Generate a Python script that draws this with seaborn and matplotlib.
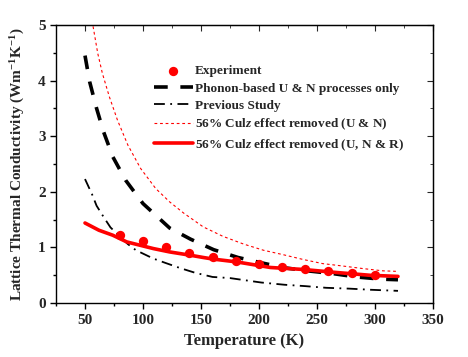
import numpy as np
import pandas as pd
import matplotlib
matplotlib.use("Agg")
import matplotlib.pyplot as plt
import seaborn as sns

# experiment points
expT = [80, 100, 120, 140, 160, 180, 200, 220, 240, 260, 280, 300]
expK = [1.22, 1.12, 1.0, 0.9, 0.82, 0.76, 0.7, 0.65, 0.62, 0.58, 0.54, 0.5]

# phonon-based U & N processes only
unT = [50, 54, 60, 66, 74, 85, 100, 123, 141, 161, 182, 202, 222, 242, 264, 284, 306, 320]
unK = [4.45, 3.98, 3.5, 3.08, 2.63, 2.21, 1.79, 1.35, 1.15, 0.96, 0.82, 0.725, 0.635, 0.58, 0.53, 0.47, 0.43, 0.42]

# previous study
prevT = [50, 56, 60, 66, 72, 80, 87, 94, 109, 119, 132, 145, 160, 175, 185, 202, 222, 240, 258, 278, 296, 320]
prevK = [2.23, 1.96, 1.75, 1.55, 1.36, 1.2, 1.06, 0.95, 0.8, 0.725, 0.63, 0.545, 0.47, 0.45, 0.42, 0.37, 0.33, 0.305, 0.275, 0.26, 0.24, 0.22]

# 56% Culz effect removed (U & N)
cunT = [50, 57, 61, 65, 71, 78, 87, 98, 111, 123, 135, 152, 169, 187, 204, 221, 238, 255, 273, 290, 307, 320]
cunK = [5.8, 4.97, 4.49, 4.13, 3.71, 3.29, 2.84, 2.42, 2.06, 1.82, 1.62, 1.37, 1.2, 1.06, 0.95, 0.87, 0.785, 0.71, 0.665, 0.62, 0.58, 0.57]

# 56% Culz effect removed (U, N & R)
cunrT = [50, 62, 74, 86, 109, 123, 141, 152, 161, 181, 210, 238, 267, 296, 320]
cunrK = [1.44, 1.31, 1.22, 1.1, 0.98, 0.92, 0.86, 0.82, 0.79, 0.74, 0.64, 0.605, 0.55, 0.5, 0.48]

sns.set_style("ticks")
plt.rcParams['font.family'] = ['Liberation Serif', 'DejaVu Serif']
plt.rcParams['font.weight'] = 'bold'
plt.rcParams['mathtext.fontset'] = 'custom'
plt.rcParams['mathtext.rm'] = 'Liberation Serif:bold'
plt.rcParams['mathtext.it'] = 'Liberation Serif:italic:bold'
plt.rcParams['mathtext.bf'] = 'Liberation Serif:bold'

fig = plt.figure(figsize=(4.68, 3.57), dpi=100)
ax = fig.add_axes([0.1197, 0.151, 0.805, 0.779])

sns.scatterplot(x=expT, y=expK, ax=ax, color="red", s=45, edgecolor="red", linewidth=0,
                label="Experiment", zorder=3)
sns.lineplot(x=unT, y=unK, ax=ax, color="black", lw=2.6, label="Phonon-based U & N processes only",
             sort=False, estimator=None)
sns.lineplot(x=prevT, y=prevK, ax=ax, color="black", lw=1.3, label="Previous Study",
             sort=False, estimator=None)
sns.lineplot(x=cunT, y=cunK, ax=ax, color="red", lw=0.8, label=r"56% Cul$\it{z}$ effect removed (U & N)",
             sort=False, estimator=None)
sns.lineplot(x=cunrT, y=cunrK, ax=ax, color="red", lw=2.6, label=r"56% Cul$\it{z}$ effect removed (U, N & R)",
             sort=False, estimator=None, zorder=2)

lines = ax.get_lines()
lines[0].set_dashes([3.8, 3.5])
lines[1].set_dashes([6, 3, 1, 3])
lines[2].set_dashes([2.5, 2.5])

ax.set_xlim(25, 350)
ax.set_ylim(0, 5)
ax.set_xticks([50, 100, 150, 200, 250, 300, 350])
ax.set_xticks(np.arange(25, 351, 25), minor=True)
ax.set_yticks([0, 1, 2, 3, 4, 5])
ax.set_yticks(np.arange(0, 5.01, 0.5), minor=True)
ax.tick_params(which="both", direction="out", labelsize=11, width=1, color="black")
ax.tick_params(which="major", length=4)
ax.tick_params(which="minor", length=2.5)
for lab in ax.get_xticklabels() + ax.get_yticklabels():
    lab.set_fontweight("bold")

# mirrored inward ticks on top and right
top = ax.secondary_xaxis("top")
top.set_xticks([50, 100, 150, 200, 250, 300, 350])
top.set_xticks(np.arange(25, 351, 25), minor=True)
top.tick_params(which="both", direction="in", labeltop=False)
top.tick_params(which="major", length=4)
top.tick_params(which="minor", length=2.5)
right = ax.secondary_yaxis("right")
right.set_yticks([0, 1, 2, 3, 4, 5])
right.set_yticks(np.arange(0, 5.01, 0.5), minor=True)
right.tick_params(which="both", direction="in", labelright=False)
right.tick_params(which="major", length=4)
right.tick_params(which="minor", length=2.5)

for sp in ax.spines.values():
    sp.set_color("black")
    sp.set_linewidth(1)

ax.set_xlabel("Temperature (K)", fontsize=12, fontweight="bold", labelpad=5)
ax.set_ylabel(r"Lattice Thermal Conductivity (Wm$^{-1}$K$^{-1}$)", fontsize=11, fontweight="bold", labelpad=8)

leg = ax.legend(loc="upper left", bbox_to_anchor=(0.245, 0.875), frameon=False, fontsize=9.5,
                handlelength=3.0, handletextpad=0.1, labelspacing=0.38, borderaxespad=0)
for t in leg.get_texts():
    t.set_fontweight("bold")

fig.savefig("out.png", dpi=100)
